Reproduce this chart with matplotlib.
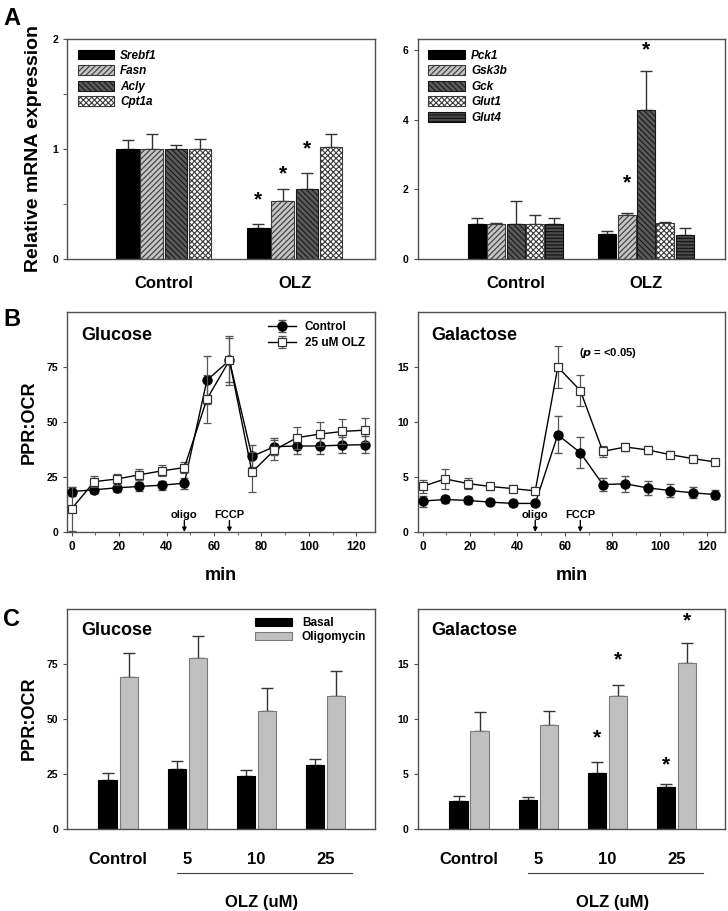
import numpy as np
import matplotlib
matplotlib.use("Agg")
import matplotlib.pyplot as plt
from matplotlib.ticker import MultipleLocator

plt.rcParams['font.family'] = ['Liberation Sans', 'DejaVu Sans']
plt.rcParams['font.weight'] = 'bold'
plt.rcParams['axes.labelweight'] = 'bold'
plt.rcParams['hatch.linewidth'] = 0.8

# ---------------- data ----------------
groups_a = ["Control", "OLZ"]

lipid_genes = ["Srebf1", "Fasn", "Acly", "Cpt1a"]
lipid_ctrl = [1.0, 1.0, 1.0, 1.0]
lipid_ctrl_err = [0.08, 0.14, 0.04, 0.09]
lipid_olz = [0.28, 0.53, 0.64, 1.02]
lipid_olz_err = [0.035, 0.105, 0.14, 0.12]
lipid_star = [0.54, 0.77, 1.0, None]

gluc_genes = ["Pck1", "Gsk3b", "Gck", "Glut1", "Glut4"]
gluc_ctrl = [1.0, 1.0, 1.0, 1.0, 1.0]
gluc_ctrl_err = [0.18, 0.04, 0.68, 0.25, 0.19]
gluc_olz = [0.73, 1.26, 4.27, 1.04, 0.69]
gluc_olz_err = [0.08, 0.06, 1.12, 0.03, 0.19]
gluc_star = [None, 2.2, 6.0, None, None]

minutes = [0, 9.5, 19, 28.5, 38, 47.5, 57, 66.5, 76, 85.5, 95, 104.5, 114, 123.5]
glu_ctrl = [18.4, 19.2, 20.1, 20.7, 21.3, 22.2, 69.0, 78.0, 34.4, 38.8, 39.1, 39.1, 39.5, 39.7]
glu_ctrl_err = [2.0, 1.5, 2.0, 2.0, 2.0, 2.5, 11.0, 10.0, 5.0, 4.0, 3.5, 3.5, 3.5, 4.0]
glu_olz = [10.6, 22.9, 24.1, 26.0, 27.8, 29.3, 60.4, 78.0, 27.2, 37.3, 42.9, 44.5, 45.7, 46.3]
glu_olz_err = [10.0, 2.5, 2.5, 2.5, 2.5, 2.5, 11.0, 11.0, 9.0, 4.5, 5.0, 5.5, 5.5, 5.5]

gal_ctrl = [2.81, 2.96, 2.87, 2.72, 2.60, 2.60, 8.84, 7.21, 4.32, 4.38, 4.01, 3.77, 3.56, 3.41]
gal_ctrl_err = [0.5, 0.3, 0.3, 0.2, 0.2, 0.2, 1.7, 1.4, 0.6, 0.7, 0.6, 0.6, 0.5, 0.4]
gal_olz = [4.14, 4.83, 4.41, 4.14, 3.95, 3.74, 15.0, 12.86, 7.33, 7.73, 7.46, 7.03, 6.67, 6.37]
gal_olz_err = [0.6, 0.9, 0.5, 0.3, 0.3, 0.3, 1.9, 1.4, 0.5, 0.4, 0.4, 0.3, 0.3, 0.3]

doses = ["Control", "5", "10", "25"]
c_glu_basal = [22.4, 27.1, 23.8, 29.1]
c_glu_basal_err = [2.8, 3.8, 3.0, 2.7]
c_glu_oligo = [69.4, 78.0, 53.5, 60.6]
c_glu_oligo_err = [10.9, 10.0, 10.7, 11.2]
c_gal_basal = [2.55, 2.58, 5.04, 3.77]
c_gal_basal_err = [0.40, 0.30, 1.03, 0.30]
c_gal_oligo = [8.90, 9.44, 12.15, 15.09]
c_gal_oligo_err = [1.73, 1.28, 1.00, 1.85]
c_gal_basal_star = [None, None, 8.3, 5.8]
c_gal_oligo_star = [None, None, 15.4, 19.0]

# bar styles (face, hatch, edge)
lipid_style = [("black", None, "black"),
               ("#c4c4c4", "//////", "#3a3a3a"),
               ("#5a5a5a", "\\\\\\\\\\\\", "#1a1a1a"),
               ("white", "xxxxxx", "#3a3a3a")]
gluc_style = lipid_style + [("#4a4a4a", "-----", "#111111")]

SPINE = "#505050"


def style_axes(ax):
    for s in ax.spines.values():
        s.set_color(SPINE)
        s.set_linewidth(1.0)
    ax.tick_params(axis='both', labelsize=7.5, width=0.8, length=3, color=SPINE)


def gene_bars(ax, genes, ctrl, ctrl_err, olz, olz_err, stars, styles, step, width, ylim):
    n = len(genes)
    x = np.arange(len(groups_a))
    for i in range(n):
        off = (i - (n - 1) / 2) * step
        vals = [ctrl[i], olz[i]]
        errs = [ctrl_err[i], olz_err[i]]
        fc, hatch, ec = styles[i]
        ax.bar(x + off, vals, width, color=fc, hatch=hatch, edgecolor=ec,
               linewidth=0.8, label=genes[i], zorder=2)
        ax.errorbar(x + off, vals, yerr=[[0, 0], errs], fmt='none',
                    ecolor='#333333', elinewidth=1.0, capsize=4, capthick=1.0, zorder=1)
        if stars[i] is not None:
            ax.text(1 + off, stars[i], "*", ha='center', va='center', fontsize=15)
    ax.set_xticks(x)
    ax.set_xticklabels(groups_a, fontsize=12)
    ax.tick_params(axis='x', length=0, pad=12)
    ax.set_ylim(*ylim)
    ax.legend(loc='upper left', frameon=False, handlelength=3.1, handleheight=0.9,
              borderaxespad=0.5, labelspacing=0.3, handletextpad=0.5,
              prop={'style': 'italic', 'weight': 'bold', 'size': 8.5})


fig = plt.figure(figsize=(7.28, 9.11), dpi=100)
W = 0.4225
H = 0.2415
lefts = [0.092, 0.574]
bottoms = [0.7157, 0.416, 0.0905]

# ---------------- A ----------------
axA1 = fig.add_axes([lefts[0], bottoms[0], W, H])
style_axes(axA1)
gene_bars(axA1, lipid_genes, lipid_ctrl, lipid_ctrl_err, lipid_olz, lipid_olz_err,
          lipid_star, lipid_style, 0.185, 0.173, (0, 2))
axA1.set_xlim(-0.74, 1.61)
axA1.set_yticks([0, 1, 2])
axA1.yaxis.set_minor_locator(MultipleLocator(0.5))
axA1.tick_params(axis='y', which='minor', length=3, color=SPINE)
axA1.set_ylabel("Relative mRNA expression", fontsize=14, labelpad=7)

axA2 = fig.add_axes([lefts[1], bottoms[0], W, H])
style_axes(axA2)
gene_bars(axA2, gluc_genes, gluc_ctrl, gluc_ctrl_err, gluc_olz, gluc_olz_err,
          gluc_star, gluc_style, 0.149, 0.138, (0, 6.32))
axA2.set_xlim(-0.75, 1.61)
axA2.set_yticks([0, 2, 4, 6])

# ---------------- B ----------------
def time_course(ax, ctrl, ctrl_err, olz, olz_err, ylim, yticks, title, arrow_y, text_y):
    style_axes(ax)
    ax.errorbar(minutes, ctrl, yerr=ctrl_err, color='black', lw=1.0, marker='o', ms=6.5,
                mfc='black', mec='black', ecolor='#555555', elinewidth=0.9, capsize=3,
                label='Control', zorder=3)
    ax.errorbar(minutes, olz, yerr=olz_err, color='black', lw=1.0, marker='s', ms=6,
                mfc='white', mec='#333333', mew=0.9, ecolor='#555555', elinewidth=0.9,
                capsize=3, label='25 uM OLZ', zorder=4)
    ax.set_xlim(-2, 127.7)
    ax.set_ylim(*ylim)
    ax.set_yticks(yticks)
    ax.set_xticks(np.arange(0, 121, 20))
    ax.xaxis.set_minor_locator(MultipleLocator(10))
    ax.tick_params(axis='x', which='minor', length=2, color=SPINE)
    ax.tick_params(axis='x', labelsize=8.5)
    ax.set_xlabel("min", fontsize=13, labelpad=10)
    ax.text(0.045, 0.93, title, transform=ax.transAxes, fontsize=13, va='top')
    for xm, lab in [(47.5, "oligo"), (66.5, "FCCP")]:
        ax.annotate("", xy=(xm, 0), xytext=(xm, arrow_y),
                    arrowprops=dict(arrowstyle='-|>', color='black', lw=1.0,
                                    mutation_scale=6, shrinkA=0, shrinkB=0))
        ax.text(xm, text_y, lab, ha='center', va='center', fontsize=8)


axB1 = fig.add_axes([lefts[0], bottoms[1], W, H])
time_course(axB1, glu_ctrl, glu_ctrl_err, glu_olz, glu_olz_err, (0, 100), [0, 25, 50, 75],
            "Glucose", 5.2, 7.6)
axB1.set_ylabel("PPR:OCR", fontsize=13, labelpad=6)
axB1.legend(loc='upper right', frameon=False, fontsize=8.5, handlelength=2.3,
            borderaxespad=0.4, labelspacing=0.3)

axB2 = fig.add_axes([lefts[1], bottoms[1], W, H])
time_course(axB2, gal_ctrl, gal_ctrl_err, gal_olz, gal_olz_err, (0, 20), [0, 5, 10, 15],
            "Galactose", 1.05, 1.52)
axB2.text(78, 16.3, "($\\mathbfit{p}$ = <0.05)", ha='center', va='center', fontsize=8)

# ---------------- C ----------------
def dose_bars(ax, basal, basal_err, oligo, oligo_err, ylim, yticks, title):
    style_axes(ax)
    x = np.arange(len(doses))
    ax.bar(x - 0.152, basal, 0.264, color='black', edgecolor='black', lw=0.8,
           label='Basal', zorder=2)
    ax.bar(x + 0.152, oligo, 0.264, color='#c0c0c0', edgecolor='#7a7a7a', lw=0.8,
           label='Oligomycin', zorder=2)
    ax.errorbar(x - 0.152, basal, yerr=[[0] * 4, basal_err], fmt='none', ecolor='#333333',
                elinewidth=1.0, capsize=4, zorder=1)
    ax.errorbar(x + 0.152, oligo, yerr=[[0] * 4, oligo_err], fmt='none', ecolor='#333333',
                elinewidth=1.0, capsize=4, zorder=1)
    ax.set_xlim(-0.74, 3.71)
    ax.set_ylim(*ylim)
    ax.set_yticks(yticks)
    ax.set_xticks(x)
    ax.set_xticklabels(doses, fontsize=12)
    ax.tick_params(axis='x', length=0, pad=17)
    ax.text(0.045, 0.94, title, transform=ax.transAxes, fontsize=13, va='top')
    # OLZ dose bracket
    ax.plot([0.85, 3.39], [-0.2 * ylim[1], -0.2 * ylim[1]], color='#404040', lw=0.8,
            clip_on=False)
    ax.text(2.08, -0.335 * ylim[1], "OLZ (uM)", ha='center', va='center', fontsize=12)


axC1 = fig.add_axes([lefts[0], bottoms[2], W, H])
dose_bars(axC1, c_glu_basal, c_glu_basal_err, c_glu_oligo, c_glu_oligo_err, (0, 100.5),
          [0, 25, 50, 75], "Glucose")
axC1.set_ylabel("PPR:OCR", fontsize=13, labelpad=6)
axC1.legend(loc='upper right', frameon=False, fontsize=8.5, handlelength=3.2, handleheight=0.7,
            borderaxespad=0.3, labelspacing=0.2)

axC2 = fig.add_axes([lefts[1], bottoms[2], W, H])
dose_bars(axC2, c_gal_basal, c_gal_basal_err, c_gal_oligo, c_gal_oligo_err, (0, 20.1),
          [0, 5, 10, 15], "Galactose")
xc = np.arange(len(doses))
for i in range(len(doses)):
    if c_gal_basal_star[i] is not None:
        axC2.text(xc[i] - 0.152, c_gal_basal_star[i], "*", ha='center', va='center', fontsize=15)
    if c_gal_oligo_star[i] is not None:
        axC2.text(xc[i] + 0.152, c_gal_oligo_star[i], "*", ha='center', va='center', fontsize=15)

# panel letters
fig.text(0.004, 0.992, "A", fontsize=17, va='top')
fig.text(0.004, 0.662, "B", fontsize=17, va='top')
fig.text(0.004, 0.333, "C", fontsize=17, va='top')

fig.savefig("out.png", dpi=100)
